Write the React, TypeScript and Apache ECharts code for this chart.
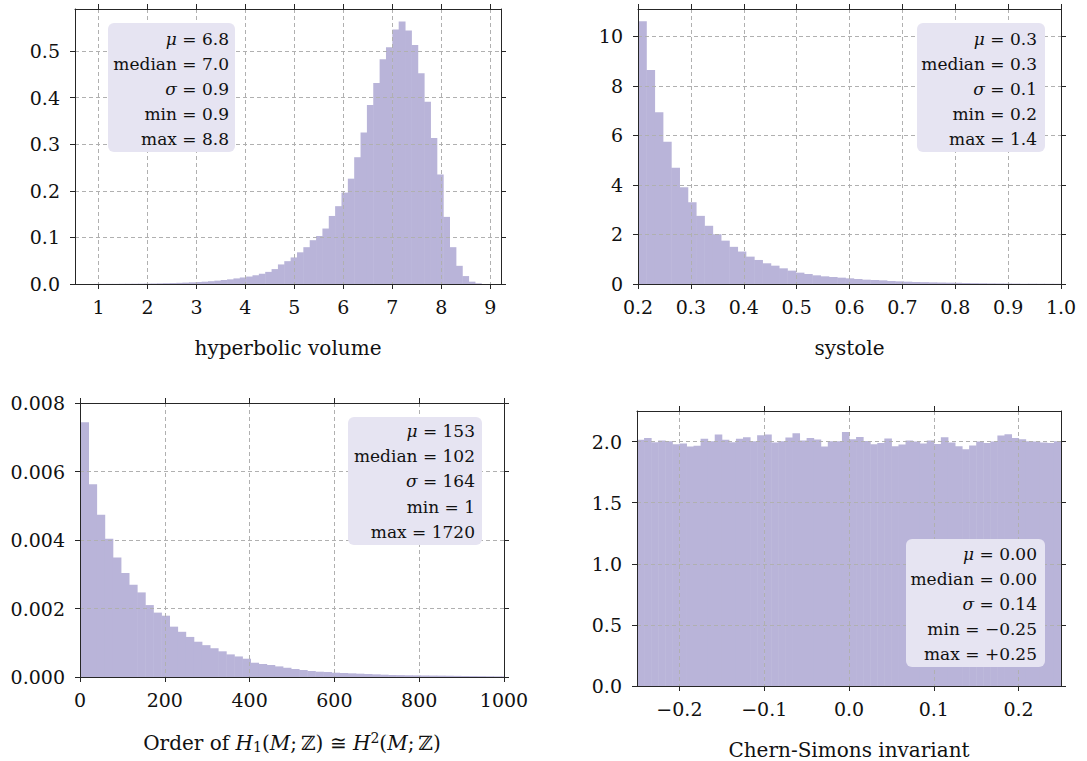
import React, { useEffect, useRef } from 'react';
import * as echarts from 'echarts';

// ---------- data ----------
const volumeStart = 0.9;
const volumeWidth = 0.1298;
const volumeDensity = [
  0.0002, 0.0002, 0.0003, 0.0003, 0.0004, 0.0005, 0.0006, 0.0007, 0.0009,
  0.0011, 0.0014, 0.0017, 0.002, 0.0025,
  0.003, 0.0036, 0.0043, 0.005, 0.006, 0.0072, 0.0086,
  0.01, 0.012, 0.014, 0.016, 0.019, 0.022, 0.026, 0.032,
  0.042, 0.049, 0.057, 0.068, 0.079, 0.094, 0.103, 0.119,
  0.146, 0.167, 0.196, 0.226, 0.272, 0.325, 0.384, 0.431, 0.482, 0.508, 0.546, 0.563,
  0.544, 0.513, 0.452, 0.391, 0.313, 0.235, 0.144, 0.079, 0.039, 0.017, 0.005, 0.0015,
];

const systoleStart = 0.2;
const systoleWidth = 0.01569;
const systoleDensity = [
  10.61, 8.64, 6.93, 5.74, 4.69, 3.91, 3.3, 2.75, 2.35, 2.01,
  1.75, 1.5, 1.31, 1.105, 0.97, 0.836, 0.74, 0.633, 0.54, 0.458,
  0.404, 0.35, 0.31, 0.283, 0.256, 0.229, 0.202, 0.175, 0.162, 0.148,
  0.121, 0.108, 0.094, 0.081, 0.075, 0.067, 0.06, 0.054, 0.05, 0.04,
  0.035, 0.03, 0.025, 0.022, 0.02, 0.017, 0.015, 0.013, 0.011, 0.01, 0.009,
];

const orderStart = 1;
const orderWidth = 19.1;
const orderDensity = [
  0.00744, 0.00563, 0.00474, 0.00404, 0.00349, 0.00304, 0.00269, 0.00247, 0.0021, 0.00188,
  0.00179, 0.00147, 0.00132, 0.00117, 0.00103, 0.00093, 0.00084, 0.00075, 0.00066, 0.0006,
  0.000534, 0.000417, 0.000379, 0.00035, 0.00031, 0.00027, 0.000233, 0.000204, 0.000175, 0.000155,
  0.000146, 0.000126, 0.000117, 0.000107, 0.000097, 0.000087, 0.000078, 0.000068, 0.000058, 0.000055,
  0.00005, 0.000048, 0.000045, 0.000042, 0.00004, 0.000037, 0.000033, 0.00003, 0.000027, 0.000025,
  0.000022, 0.00002, 0.000018,
];

const csStart = -0.25;
const csWidth = 0.5 / 60;
const csDensity = [
  2.014, 2.03, 1.995, 2.008, 2.003, 1.978, 1.984, 1.96, 1.965, 2.022,
  2.003, 2.057, 2.014, 1.995, 2.022, 2.035, 2.003, 2.052, 2.057, 1.992,
  2.003, 2.033, 2.068, 2.008, 2.03, 2.016, 1.96, 2.003, 2.003, 2.079,
  2.019, 2.038, 2.005, 1.978, 1.989, 2.025, 1.962, 1.976, 2.008, 2.0,
  1.984, 2.008, 1.981, 2.035, 1.992, 1.962, 1.937, 1.967, 2.0, 1.989,
  2.0, 2.049, 2.06, 2.03, 2.019, 2.003, 2.0, 1.992, 1.989, 2.003,
];

const volumeXTicks = [1, 2, 3, 4, 5, 6, 7, 8, 9];
const volumeYTicks = [0, 0.1, 0.2, 0.3, 0.4, 0.5];
const systoleXTicks = [0.2, 0.3, 0.4, 0.5, 0.6, 0.7, 0.8, 0.9, 1.0];
const systoleYTicks = [0, 2, 4, 6, 8, 10];
const orderXTicks = [0, 200, 400, 600, 800, 1000];
const orderYTicks = [0, 0.002, 0.004, 0.006, 0.008];
const csXTicks = [-0.2, -0.1, 0, 0.1, 0.2];
const csYTicks = [0, 0.5, 1.0, 1.5, 2.0];

const volumeStats = [['μ', '6.8'], ['median', '7.0'], ['σ', '0.9'], ['min', '0.9'], ['max', '8.8']];
const systoleStats = [['μ', '0.3'], ['median', '0.3'], ['σ', '0.1'], ['min', '0.2'], ['max', '1.4']];
const orderStats = [['μ', '153'], ['median', '102'], ['σ', '164'], ['min', '1'], ['max', '1720']];
const csStats = [['μ', '0.00'], ['median', '0.00'], ['σ', '0.14'], ['min', '−0.25'], ['max', '+0.25']];

// ---------- styles ----------
const FONT = '"DejaVu Serif", serif';
const BAR = '#b9b4d9';
const FRAME = '#262626';
const GRIDLINE = '#b0b0b0';
const BOX = '#e6e4f2';
const TXT = '#111111';
const TICK_FONT = 19;

const toBins = (start: number, width: number, values: number[]) =>
  values.map((v, i) => [start + i * width, start + (i + 1) * width, v]);

const minus = (s: string) => s.replace('-', '−');
const fmtFixed = (d: number) => (v: number) => {
  const r = Math.abs(v) < 1e-9 ? 0 : v;
  return minus(r.toFixed(d));
};

const panels = [
  {
    grid: { left: 75, top: 9, width: 426, height: 275 },
    xMin: 0.52, xMax: 9.22, xSplit: 9, yMin: 0, yMax: 0.59, ySplit: 5,
    xTicks: volumeXTicks, yTicks: volumeYTicks,
    xFmt: (v: number) => String(Math.round(v)), yFmt: fmtFixed(1),
    name: 'hyperbolic volume', nameGap: 54,
    bins: toBins(volumeStart, volumeWidth, volumeDensity),
    stats: volumeStats,
    box: { x: 108, y: 23, w: 127, h: 129, right: 229, first: 38.5, step: 25 },
  },
  {
    grid: { left: 638, top: 9, width: 423, height: 275 },
    xMin: 0.2, xMax: 1.0, xInterval: 0.1, yMin: 0, yMax: 11.1, ySplit: 5,
    xTicks: systoleXTicks, yTicks: systoleYTicks,
    xFmt: fmtFixed(1), yFmt: (v: number) => String(Math.round(v)),
    name: 'systole', nameGap: 54,
    bins: toBins(systoleStart, systoleWidth, systoleDensity),
    stats: systoleStats,
    box: { x: 917, y: 23, w: 128, h: 129, right: 1037, first: 38.5, step: 25 },
  },
  {
    grid: { left: 80, top: 403, width: 424, height: 274 },
    xMin: 0, xMax: 1000, xInterval: 200, yMin: 0, yMax: 0.008, yInterval: 0.002,
    xTicks: orderXTicks, yTicks: orderYTicks,
    xFmt: (v: number) => String(Math.round(v)), yFmt: fmtFixed(3),
    name: 'Order of {i|H}{sub|1}({i|M};\u2009ℤ) ≅ {i|H}{sup|2}({i|M};\u2009ℤ)', nameGap: 54,
    bins: toBins(orderStart, orderWidth, orderDensity),
    stats: orderStats,
    box: { x: 348, y: 417, w: 134, h: 128, right: 475, first: 431, step: 25.2 },
  },
  {
    grid: { left: 637, top: 411, width: 424, height: 275 },
    xMin: -0.25, xMax: 0.25, xSplit: 5, yMin: 0, yMax: 2.25, ySplit: 5,
    xTicks: csXTicks, yTicks: csYTicks,
    xFmt: fmtFixed(1), yFmt: fmtFixed(1),
    name: 'Chern-Simons invariant', nameGap: 54,
    bins: toBins(csStart, csWidth, csDensity),
    stats: csStats,
    box: { x: 906, y: 539, w: 139, h: 128, right: 1037, first: 553.5, step: 25.2 },
  },
];

function buildOption() {
  const grids: any[] = [];
  const xAxes: any[] = [];
  const yAxes: any[] = [];
  const series: any[] = [];
  const graphics: any[] = [];

  const labelStyle = { color: TXT, fontFamily: FONT, fontSize: TICK_FONT };
  const tickStyle = { show: true, inside: false, length: 5, lineStyle: { color: FRAME, width: 1 } };
  const lineStyle = { show: true, onZero: false, lineStyle: { color: FRAME, width: 1 } };
  const splitStyle = { show: true, lineStyle: { type: [4, 3], color: GRIDLINE, width: 1 } };

  panels.forEach((p: any, i) => {
    grids.push({ ...p.grid, containLabel: false });
    const xi = xAxes.length;
    const scaleX: any = { min: p.xMin, max: p.xMax };
    if (p.xInterval) scaleX.interval = p.xInterval; else scaleX.splitNumber = p.xSplit;
    const scaleY: any = { min: p.yMin, max: p.yMax };
    if (p.yInterval) scaleY.interval = p.yInterval; else scaleY.splitNumber = p.ySplit;

    xAxes.push({
      type: 'value', gridIndex: i, position: 'bottom', z: 3, ...scaleX,
      axisLine: lineStyle,
      axisTick: { ...tickStyle, customValues: p.xTicks },
      axisLabel: { ...labelStyle, customValues: p.xTicks, formatter: p.xFmt, margin: 13 },
      splitLine: splitStyle,
      name: p.name, nameLocation: 'middle', nameGap: p.nameGap,
      nameTextStyle: {
        color: TXT, fontFamily: FONT, fontSize: 20,
        rich: {
          i: { fontStyle: 'italic', fontFamily: FONT, fontSize: 20, color: TXT },
          sub: { fontSize: 14, fontFamily: FONT, color: TXT, verticalAlign: 'bottom', padding: [9, 0, 0, 0] },
          sup: { fontSize: 14, fontFamily: FONT, color: TXT, verticalAlign: 'top', padding: [0, 0, 8, 0] },
        },
      },
    });
    xAxes.push({
      type: 'value', gridIndex: i, position: 'top', z: 3, ...scaleX,
      axisLine: lineStyle,
      axisTick: { ...tickStyle, customValues: p.xTicks },
      axisLabel: { show: false },
      splitLine: { show: false },
    });
    const yi = yAxes.length;
    yAxes.push({
      type: 'value', gridIndex: i, position: 'left', z: 3, ...scaleY,
      axisLine: lineStyle,
      axisTick: { ...tickStyle, customValues: p.yTicks },
      axisLabel: { ...labelStyle, customValues: p.yTicks, formatter: p.yFmt, margin: 15 },
      splitLine: splitStyle,
    });
    yAxes.push({
      type: 'value', gridIndex: i, position: 'right', z: 3, ...scaleY,
      axisLine: lineStyle,
      axisTick: { ...tickStyle, customValues: p.yTicks },
      axisLabel: { show: false },
      splitLine: { show: false },
    });

    series.push({
      type: 'custom', xAxisIndex: xi, yAxisIndex: yi, z: 1, clip: true,
      encode: { x: [0, 1], y: 2 },
      data: p.bins,
      renderItem: (params: any, api: any) => {
        const a = api.coord([api.value(0), 0]);
        const b = api.coord([api.value(1), api.value(2)]);
        return {
          type: 'rect',
          shape: { x: a[0], y: b[1], width: b[0] - a[0] + 0.5, height: a[1] - b[1] },
          style: { fill: BAR },
        };
      },
    });

    const bx = p.box;
    graphics.push({
      type: 'rect', z: 100,
      shape: { x: bx.x, y: bx.y, width: bx.w, height: bx.h, r: 6 },
      style: { fill: BOX },
    });
    p.stats.forEach((s: string[], k: number) => {
      const label = s[0] === 'μ' || s[0] === 'σ' ? `{i|${s[0]}}` : s[0];
      graphics.push({
        type: 'text', z: 101,
        x: bx.right, y: bx.first + k * bx.step,
        style: {
          text: `${label} = ${s[1]}`,
          fill: TXT, fontFamily: FONT, fontSize: 17,
          align: 'right', verticalAlign: 'middle',
          rich: { i: { fontStyle: 'italic', fontFamily: FONT, fontSize: 17, fill: TXT } },
        },
      });
    });
  });

  return {
    animation: false,
    backgroundColor: '#ffffff',
    grid: grids,
    xAxis: xAxes,
    yAxis: yAxes,
    series,
    graphic: graphics,
  };
}

export default function App() {
  const ref = useRef<HTMLDivElement>(null);
  useEffect(() => {
    if (!ref.current) return;
    const chart = echarts.init(ref.current, null, { renderer: 'svg' });
    chart.setOption(buildOption() as any);
    return () => chart.dispose();
  }, []);
  return (
    <div
      ref={ref}
      style={{ position: 'absolute', left: 0, top: 0, width: 1087, height: 761, background: '#fff' }}
    />
  );
}
